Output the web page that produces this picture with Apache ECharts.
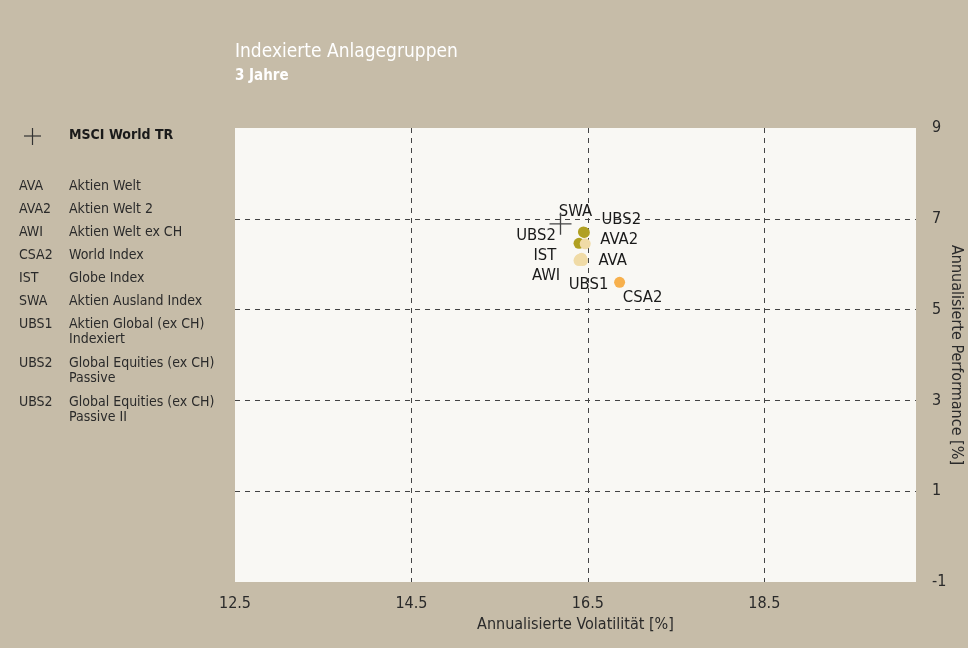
<!DOCTYPE html>
<html><head><meta charset="utf-8">
<script src="https://cdn.jsdelivr.net/npm/echarts@6/dist/echarts.min.js"></script>
<style>html,body{margin:0;padding:0;background:#c6bca8;}#c{width:968px;height:648px;}</style>
</head><body><div id="c"></div>
<script>
// ---- data ----
var fundCodes   = ['SWA','UBS2','UBS2','AVA2','IST','AVA','AWI','UBS1','CSA2'];
var volatility  = [16.45,16.46,16.40,16.47,16.41,16.43,16.40,16.44,16.86];
var performance = [6.71, 6.70, 6.46, 6.45, 6.11, 6.13, 6.08, 6.08, 5.60];
var colorGroup  = ['olive','olive','olive','light','light','light','light','light','orange'];
var benchmarkName = 'MSCI World TR';
var benchmarkVol  = [16.19];
var benchmarkPerf = [6.89];
var legendCodes = ['AVA','AVA2','AWI','CSA2','IST','SWA','UBS1','UBS2','UBS2'];
var legendNames = ['Aktien Welt','Aktien Welt 2','Aktien Welt ex CH','World Index','Globe Index','Aktien Ausland Index','Aktien Global (ex CH)\nIndexiert','Global Equities (ex CH)\nPassive','Global Equities (ex CH)\nPassive II'];
var xTicks = [12.5,14.5,16.5,18.5];
var yTicks = [-1,1,3,5,7,9];

// ---- styles ----
var FONT = "'Liberation Sans Narrow','DejaVu Sans Condensed','Roboto',sans-serif";
var colors = {olive:'#b0a022', light:'#f0dba6', orange:'#f7b04c'};
var labelOffsets = [[-8,-20],[37,-13],[-43,-8],[34,-4],[-35,-3],[31,2],[-33,15],[6,24],[23,15]];
var legendRowY = [187,210,233,256,279,302,325,364,403];

var chart = echarts.init(document.getElementById('c'));
var pts = fundCodes.map(function(c,i){
  return {value:[volatility[i],performance[i]], name:c,
    itemStyle:{color:colors[colorGroup[i]], opacity:1},
    label:{show:true, formatter:c, position:'inside', offset:labelOffsets[i], color:'#1a1a1a', fontSize:16.5}};
});
var graphics = [
  {type:'text', left:235, top:43, style:{text:'Indexierte Anlagegruppen', fill:'#ffffff', font:'19px '+FONT}},
  {type:'text', left:235, top:69, style:{text:'3 Jahre', fill:'#ffffff', font:'bold 15px '+FONT}},
  {type:'line', shape:{x1:24,y1:136,x2:41,y2:136}, style:{stroke:'#333',lineWidth:1.2}},
  {type:'line', shape:{x1:32.5,y1:128,x2:32.5,y2:145}, style:{stroke:'#333',lineWidth:1.2}},
  {type:'text', left:69, top:128, style:{text:benchmarkName, fill:'#1a1a1a', font:'bold 14px '+FONT}}
];
legendCodes.forEach(function(c,i){
  graphics.push({type:'text', left:19, top:legendRowY[i]-8, style:{text:c, fill:'#2a2a2a', font:'14px '+FONT}});
  graphics.push({type:'text', left:69, top:legendRowY[i]-8, style:{text:legendNames[i], fill:'#2a2a2a', font:'14px '+FONT, lineHeight:15}});
});
chart.setOption({
  animation:false,
  backgroundColor:'#c6bca8',
  textStyle:{fontFamily:FONT},
  grid:{left:235,right:52,top:128,bottom:66,show:true,backgroundColor:'#f9f8f4',borderWidth:0,
        containLabel:false, outerBoundsMode:'none'},
  xAxis:{type:'value', min:xTicks[0], max:20.22, interval:xTicks[1]-xTicks[0],
    name:'Annualisierte Volatilität [%]', nameLocation:'middle', nameGap:35, nameMoveOverlap:false,
    nameTextStyle:{color:'#2a2a2a',fontSize:16,fontFamily:FONT},
    axisLine:{show:false}, axisTick:{show:false},
    axisLabel:{color:'#2a2a2a',fontSize:16,fontFamily:FONT,margin:14,showMaxLabel:false,
      formatter:function(v){return v.toFixed(1);}},
    splitLine:{show:true,showMinLine:false,showMaxLine:false,lineStyle:{color:'#444',type:[5,5],width:1}}},
  yAxis:{type:'value', position:'right', min:yTicks[0], max:yTicks[yTicks.length-1], interval:yTicks[1]-yTicks[0],
    name:'Annualisierte Performance [%]', nameLocation:'middle', nameGap:32, nameRotate:-90, nameMoveOverlap:false,
    nameTextStyle:{color:'#2a2a2a',fontSize:16,fontFamily:FONT},
    axisLine:{show:false}, axisTick:{show:false},
    axisLabel:{color:'#2a2a2a',fontSize:16,fontFamily:FONT,margin:16},
    splitLine:{show:true,showMinLine:false,showMaxLine:false,lineStyle:{color:'#444',type:[5,5],width:1}}},
  graphic:graphics,
  series:[
    {type:'scatter', name:benchmarkName, symbol:'path://M0,9.4h20v1.2h-20z M9.4,0h1.2v20h-1.2z', symbolSize:22,
     itemStyle:{color:'#444', opacity:1}, data:benchmarkVol.map(function(v,i){return [v,benchmarkPerf[i]];}), z:3},
    {type:'scatter', symbolSize:11, data:pts, z:2,
     label:{color:'#1a1a1a',fontSize:16,fontFamily:FONT}}
  ]
});
</script></body></html>
